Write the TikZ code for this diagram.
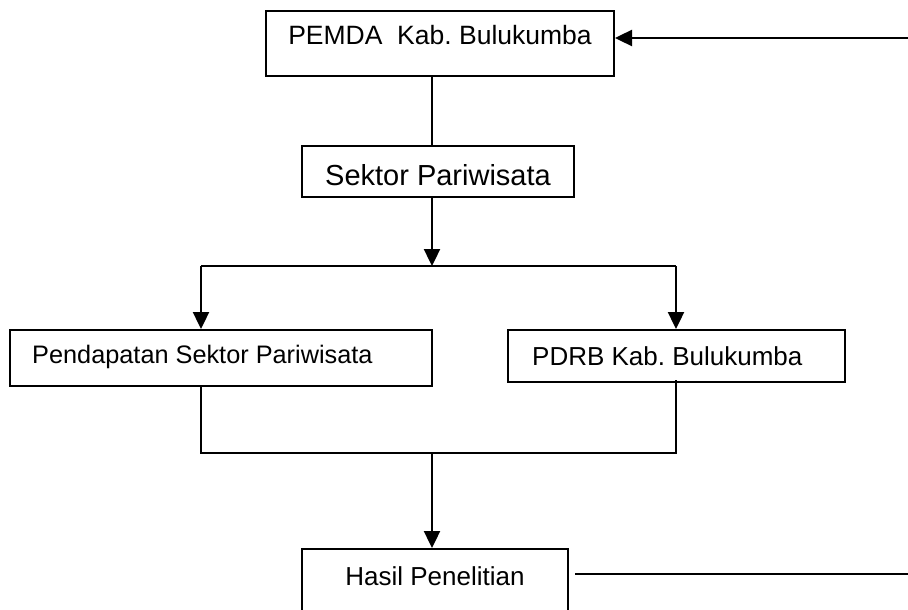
\documentclass[tikz,border=0pt]{standalone}
\usepackage{fontspec}
\setmainfont{Liberation Sans}
\usetikzlibrary{arrows.meta}
\frenchspacing
\begin{document}
\begin{tikzpicture}[x=1pt,y=-1pt,
  boxnode/.style={draw=black, line width=2pt, rectangle, inner sep=0pt},
  lbl/.style={inner sep=0pt, anchor=base},
  plainline/.style={line width=1.8pt},
  arrline/.style={line width=2.4pt, -{Triangle[length=17pt,width=16pt]}},
]
\useasboundingbox (0,0) rectangle (908,610);
\clip (0,0) rectangle (908,610);
% boxes
\node[boxnode, minimum width=348pt, minimum height=65pt] (pemda) at (440,43.5) {};
\node[lbl, font=\fontsize{26.5}{30}\selectfont] (tpemda) at (440,45) {PEMDA\ \ Kab.\ Bulukumba};
\node[boxnode, minimum width=272pt, minimum height=51pt] (sektor) at (438,171.5) {};
\node[lbl, font=\fontsize{29}{33}\selectfont] (tsektor) at (438,185) {Sektor Pariwisata};
\node[boxnode, minimum width=422pt, minimum height=56pt] (pend) at (221,358) {};
\node[lbl, anchor=base west, font=\fontsize{25.3}{30}\selectfont] (tpend) at (32,363) {Pendapatan Sektor Pariwisata};
\node[boxnode, minimum width=337pt, minimum height=52pt] (pdrb) at (676.5,356) {};
\node[lbl, anchor=base west, font=\fontsize{26}{30}\selectfont] (tpdrb) at (532,365) {PDRB Kab.\ Bulukumba};
\node[boxnode, minimum width=266pt, minimum height=70pt] (hasil) at (435,584) {};
\node[lbl, font=\fontsize{26}{30}\selectfont] (thasil) at (435,585) {Hasil Penelitian};
% junction coordinates
\coordinate (j1) at (432,266);
\coordinate (jL) at (201,266);
\coordinate (jR) at (676,266);
\coordinate (m1) at (432,453);
\coordinate (mL) at (201,453);
\coordinate (mR) at (676,453);
\coordinate (r1) at (910,574);
\coordinate (r2) at (910,38);
% connectors
\draw[plainline] (pemda.south -| j1) -- (sektor.north -| j1);
\draw[arrline] (sektor.south -| j1) -- (j1);
\draw[line width=2.4pt] (jL) -- (jR);
\draw[arrline] (jL) -- (pend.north -| jL);
\draw[arrline] (jR) -- (pdrb.north -| jR);
\draw[plainline] (pend.south -| mL) -- (mL) -- (mR) -- ([yshift=3pt]pdrb.south -| mR);
\draw[arrline] (m1) -- (hasil.north -| m1);
\draw[plainline, shorten <=6pt] (hasil.east |- r1) -- (r1);
\draw[arrline] (r2) -- (pemda.east |- r2);
\end{tikzpicture}
\end{document}
